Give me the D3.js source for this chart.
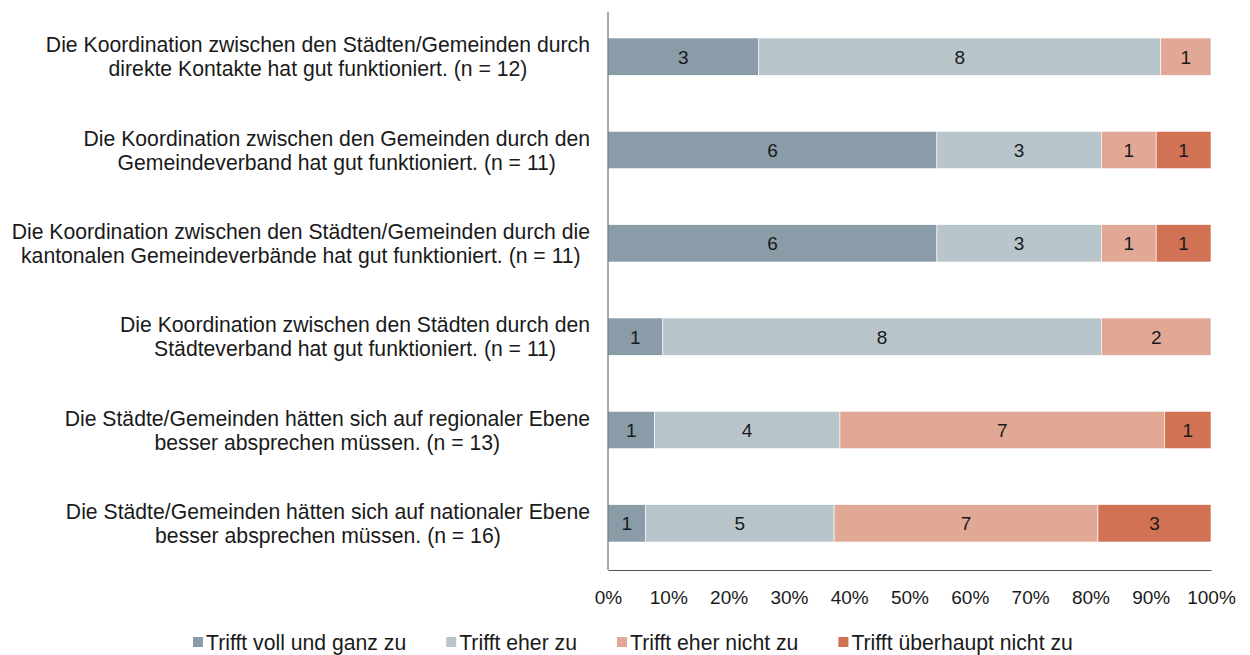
<!DOCTYPE html>
<html>
<head>
<meta charset="utf-8">
<script src="https://cdn.jsdelivr.net/npm/d3@7"></script>
<style>
  body { margin: 0; background: #fff; }
  svg text { font-family: "Liberation Sans", Arial, sans-serif; fill: #1a1a1a; }
</style>
</head>
<body>
<div class="chart"></div>
<script>
(function(){

  var width = 1250;
  var height = 655;
  var margin = { top: 10, right: 39, bottom: 85, left: 608 };

  // statements, each split in two lines as in the original
  var categories = [
    ['Die Koordination zwischen den Städten/Gemeinden durch', 'direkte Kontakte hat gut funktioniert. (n = 12)'],
    ['Die Koordination zwischen den Gemeinden durch den', 'Gemeindeverband hat gut funktioniert. (n = 11)'],
    ['Die Koordination zwischen den Städten/Gemeinden durch die', 'kantonalen Gemeindeverbände hat gut funktioniert. (n = 11)'],
    ['Die Koordination zwischen den Städten durch den', 'Städteverband hat gut funktioniert. (n = 11)'],
    ['Die Städte/Gemeinden hätten sich auf regionaler Ebene', 'besser absprechen müssen. (n = 13)'],
    ['Die Städte/Gemeinden hätten sich auf nationaler Ebene', 'besser absprechen müssen. (n = 16)']
  ];
  var seriesNames = ['Trifft voll und ganz zu', 'Trifft eher zu', 'Trifft eher nicht zu', 'Trifft überhaupt nicht zu'];
  var vollUndGanz  = [3, 6, 6, 1, 1, 1];
  var eher         = [8, 3, 3, 8, 4, 5];
  var eherNicht    = [1, 1, 1, 2, 7, 7];
  var ueberhaupt   = [0, 1, 1, 0, 1, 3];
  var xTicks = [0, 0.1, 0.2, 0.3, 0.4, 0.5, 0.6, 0.7, 0.8, 0.9, 1];
  var colors = ['#8a9ca7', '#b8c5cb', '#e2a896', '#d17254'];

  var rows = categories.map(function(c, i) {
    return { idx: i, v: [vollUndGanz[i], eher[i], eherNicht[i], ueberhaupt[i]] };
  });

  var innerW = width - margin.left - margin.right;
  var innerH = height - margin.top - margin.bottom;

  var svg = d3.select('.chart')
              .append('svg')
              .attr('width', width)
              .attr('height', height);

  var g = svg.append('g')
             .attr('transform', 'translate(' + margin.left + ',' + margin.top + ')');

  var x = d3.scaleLinear().domain([0, 1]).range([0, innerW]);
  var y = d3.scaleBand()
            .domain(d3.range(categories.length))
            .range([0, innerH])
            .paddingInner(0.6)
            .paddingOuter(0.3);

  // stacked shares
  var segments = [];
  rows.forEach(function(r) {
    var total = d3.sum(r.v);
    var acc = 0;
    r.v.forEach(function(val, k) {
      segments.push({ row: r.idx, k: k, val: val, x0: acc / total, x1: (acc + val) / total });
      acc += val;
    });
  });

  g.selectAll('rect.seg')
   .data(segments.filter(function(d) { return d.val > 0; }))
   .enter()
   .append('rect')
   .attr('class', 'seg')
   .attr('x', function(d) { return x(d.x0); })
   .attr('y', function(d) { return y(d.row); })
   .attr('width', function(d) { return x(d.x1) - x(d.x0); })
   .attr('height', y.bandwidth())
   .attr('fill', function(d) { return colors[d.k]; })
   .attr('stroke', '#fff')
   .attr('stroke-width', 0.6);

  g.selectAll('text.val')
   .data(segments.filter(function(d) { return d.val > 0; }))
   .enter()
   .append('text')
   .attr('class', 'val')
   .attr('x', function(d) { return (x(d.x0) + x(d.x1)) / 2; })
   .attr('y', function(d) { return y(d.row) + y.bandwidth() / 2; })
   .attr('dy', '0.36em')
   .attr('text-anchor', 'middle')
   .attr('font-size', '19px')
   .text(function(d) { return d.val; });

  // axes
  var xAxis = g.append('g')
               .attr('transform', 'translate(0,' + innerH + ')')
               .call(d3.axisBottom(x).tickValues(xTicks).tickSize(0).tickPadding(21)
                       .tickFormat(d3.format('.0%')));
  xAxis.select('.domain').attr('stroke', '#555').attr('stroke-width', 1);
  xAxis.selectAll('text').attr('font-size', '19px').style('font-family', null);

  g.append('line')
   .attr('x1', 0).attr('x2', 0)
   .attr('y1', 2).attr('y2', innerH)
   .attr('stroke', '#555')
   .attr('stroke-width', 1);

  // category labels: centred block, right edge at the axis gap
  var labelRight = margin.left - 18;
  var labels = svg.selectAll('g.cat')
                  .data(categories)
                  .enter()
                  .append('g')
                  .attr('class', 'cat');

  labels.each(function(lines, i) {
    var grp = d3.select(this);
    var cy = margin.top + y(i) + y.bandwidth() / 2;
    var t = grp.selectAll('text')
               .data(lines)
               .enter()
               .append('text')
               .attr('text-anchor', 'middle')
               .attr('font-size', '21.2px')
               .attr('y', function(d, j) { return cy + (j - 0.5) * 24; })
               .attr('dy', '0.36em')
               .text(function(d) { return d; });
    var maxW = d3.max(t.nodes(), function(n) { return n.getComputedTextLength(); });
    t.attr('x', labelRight - maxW / 2);
  });

  // legend
  var legend = svg.append('g').attr('class', 'legend');
  var lx = 193;
  var ly = 642;
  seriesNames.forEach(function(name, k) {
    legend.append('rect')
          .attr('x', lx).attr('y', ly - 5)
          .attr('width', 10).attr('height', 10)
          .attr('fill', colors[k]);
    var t = legend.append('text')
                  .attr('x', lx + 13).attr('y', ly)
                  .attr('dy', '0.36em')
                  .attr('font-size', '21.2px')
                  .text(name);
    lx += 13 + t.node().getComputedTextLength() + 40;
  });

})();
</script>
</body>
</html>
